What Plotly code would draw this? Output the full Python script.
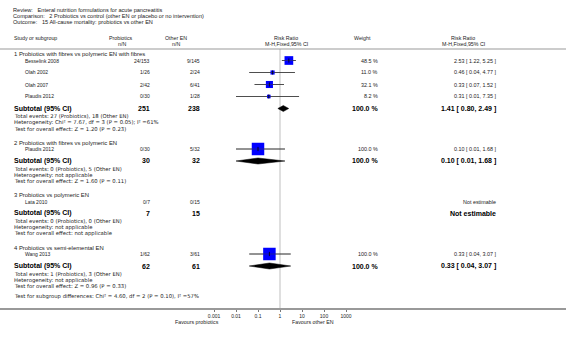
import math
import plotly.graph_objects as go

W, H = 566, 337

# ---------------- data ----------------
title_lines = [
    "Review:   Enteral nutrition formulations for acute pancreatitis",
    "Comparison:   2 Probiotics vs control (other EN or placebo or no intervention)",
    "Outcome:   15 All-cause mortality: probiotics vs other EN",
]
group_titles = [
    "1 Probiotics with fibres vs polymeric EN with fibres",
    "2 Probiotics with fibres vs polymeric EN",
    "3 Probiotics vs polymeric EN",
    "4 Probiotics vs semi-elemental EN",
]
study_names = ["Besselink 2008", "Olah 2002", "Olah 2007", "Plaudis 2012",
               "Plaudis 2012", "Lata 2010", "Wang 2013"]
study_group = [0, 0, 0, 0, 1, 2, 3]
prob_nN = ["24/153", "1/26", "2/42", "0/30", "0/30", "0/7", "1/62"]
other_nN = ["9/145", "2/24", "6/41", "1/28", "5/32", "0/15", "3/61"]
weights = [48.5, 11.0, 32.1, 8.2, 100.0, None, 100.0]
rr = [2.53, 0.46, 0.33, 0.31, 0.10, None, 0.33]
rr_lo = [1.22, 0.04, 0.07, 0.01, 0.01, None, 0.04]
rr_hi = [5.25, 4.77, 1.52, 7.35, 1.68, None, 3.07]

sub_prob_total = [251, 30, 7, 62]
sub_other_total = [238, 32, 15, 61]
sub_weight = [100.0, 100.0, None, 100.0]
sub_rr = [1.41, 0.10, None, 0.33]
sub_lo = [0.80, 0.01, None, 0.04]
sub_hi = [2.49, 1.68, None, 3.07]
sub_events = [
    "Total events: 27 (Probiotics), 18 (Other EN)",
    "Total events: 0 (Probiotics), 5 (Other EN)",
    "Total events: 0 (Probiotics), 0 (Other EN)",
    "Total events: 1 (Probiotics), 3 (Other EN)",
]
sub_het = [
    "Heterogeneity: Chi² = 7.67, df = 3 (P = 0.05); I² =61%",
    "Heterogeneity: not applicable",
    "Heterogeneity: not applicable",
    "Heterogeneity: not applicable",
]
sub_test = [
    "Test for overall effect: Z = 1.20 (P = 0.23)",
    "Test for overall effect: Z = 1.60 (P = 0.11)",
    "Test for overall effect: not applicable",
    "Test for overall effect: Z = 0.96 (P = 0.33)",
]
subgroup_diff = "Test for subgroup differences: Chi² = 4.60, df = 2 (P = 0.10), I² =57%"
tick_vals = [0.001, 0.01, 0.1, 1, 10, 100, 1000]
tick_text = ["0.001", "0.01", "0.1", "1", "10", "100", "1000"]
favours_left = "Favours probiotics"
favours_right = "Favours other EN"

# ---------------- layout helpers ----------------
FONT = "Liberation Sans, Arial, sans-serif"
FONT_WIDE = "DejaVu Sans, Verdana, sans-serif"
F_TITLE = 5.6
F_HEAD = 5.3
F_GROUP = 5.9
F_STUDY = 5.0
F_DETAIL = 5.3
F_RIGHT = 5.4
F_BOLD = 7.0
AXIS_Y = 308          # pixel row of the x axis
NULL_PX = 280         # pixel column of RR = 1
DEC_PX = 22           # pixels per decade
X0 = 12               # left text column
X_IND = 23            # indented study names
PROB_R = 152          # right edge of probiotics n/N
OTHER_R = 202         # right edge of other n/N
WEIGHT_R = 380
RR_R = 498

ann = []


def T(x, y, s, anchor="left", size=F_HEAD, bold=False, color="#222", family=FONT):
    if bold:
        s = "<b>" + s + "</b>"
    ann.append(dict(x=x / W, y=1 - y / H, xref="paper", yref="paper", text=s,
                    showarrow=False, xanchor=anchor, yanchor="middle",
                    font=dict(family=family, size=size, color=color)))


def fmt_ci(v, lo, hi):
    return f"{v:.2f} [ {lo:.2f}, {hi:.2f} ]"


# titles
for i, line in enumerate(title_lines):
    T(X0 - 1, 9.5 + 6.2 * i, line, size=F_TITLE)

# column headers
T(X0, 37.5, "Study or subgroup")
T(121, 37.5, "Probiotics", "center")
T(122, 43.8, "n/N", "center")
T(176, 37.5, "Other EN", "center")
T(176, 43.8, "n/N", "center")
T(286, 37.5, "Risk Ratio", "center")
T(286, 43.8, "M-H,Fixed,95% CI", "center")
T(362, 37.5, "Weight", "center")
T(463, 37.5, "Risk Ratio", "center")
T(463, 43.8, "M-H,Fixed,95% CI", "center")

# row positions
study_y = []
sub_y = []
y = 54
for g in range(len(group_titles)):
    T(X0, y, group_titles[g], size=F_GROUP)
    yy = y + 6.5
    for i, sg in enumerate(study_group):
        if sg == g:
            study_y.append(yy)
            yy += 12
    sub_y.append(yy)
    y = yy + 34
diff_y = sub_y[-1] + 30

# study rows text
for i, name in enumerate(study_names):
    yy = study_y[i]
    T(X_IND, yy, name, size=F_STUDY)
    T(PROB_R, yy, prob_nN[i], "right", F_STUDY)
    T(OTHER_R, yy, other_nN[i], "right", F_STUDY)
    if weights[i] is not None:
        T(WEIGHT_R, yy, f"{weights[i]:.1f} %", "right", F_RIGHT)
        T(RR_R, yy, fmt_ci(rr[i], rr_lo[i], rr_hi[i]), "right", F_RIGHT)
    else:
        T(RR_R, yy, "Not estimable", "right", F_RIGHT)

# subtotal rows text
for g in range(len(group_titles)):
    yy = sub_y[g]
    T(X0, yy, "Subtotal (95% CI)", bold=True, size=F_BOLD, color="#000")
    T(PROB_R, yy, str(sub_prob_total[g]), "right", F_BOLD, True, "#000")
    T(OTHER_R, yy, str(sub_other_total[g]), "right", F_BOLD, True, "#000")
    if sub_weight[g] is not None:
        T(WEIGHT_R, yy, f"{sub_weight[g]:.1f} %", "right", F_BOLD, True, "#000")
        T(RR_R, yy, fmt_ci(sub_rr[g], sub_lo[g], sub_hi[g]), "right", F_BOLD, True, "#000")
    else:
        T(RR_R, yy, "Not estimable", "right", F_BOLD, True, "#000")
    T(X0, yy + 7.6, sub_events[g], size=F_DETAIL, family=FONT_WIDE)
    T(X0, yy + 14.0, sub_het[g], size=F_DETAIL, family=FONT_WIDE)
    T(X0, yy + 20.4, sub_test[g], size=F_DETAIL, family=FONT_WIDE)

T(X0, diff_y, subgroup_diff, size=F_DETAIL, family=FONT_WIDE)
T(197, AXIS_Y + 14, favours_left, "center", F_HEAD)
T(313, AXIS_Y + 14, favours_right, "center", F_HEAD)

# ---------------- traces ----------------
fig = go.Figure()

# CI lines
for i in range(len(study_names)):
    if rr[i] is None:
        continue
    fig.add_trace(go.Scatter(x=[rr_lo[i], rr_hi[i]], y=[study_y[i], study_y[i]],
                             mode="lines", line=dict(color="#3a3a3a", width=0.8),
                             hoverinfo="skip", showlegend=False))

# weighted boxes
bx, by, bs = [], [], []
for i in range(len(study_names)):
    if rr[i] is None:
        continue
    bx.append(rr[i])
    by.append(study_y[i])
    bs.append(12.5 * math.sqrt(weights[i] / 100.0))
fig.add_trace(go.Scatter(x=bx, y=by, mode="markers", opacity=1,
                         marker=dict(symbol="square", size=bs, color="#0000ff",
                                     opacity=1, line=dict(width=0)),
                         hoverinfo="skip", showlegend=False))
# thin CI line and estimate tick over the box
for i in range(len(study_names)):
    if rr[i] is None:
        continue
    fig.add_trace(go.Scatter(x=[rr_lo[i], rr_hi[i]], y=[study_y[i], study_y[i]],
                             mode="lines", line=dict(color="#3a3a3a", width=0.5),
                             hoverinfo="skip", showlegend=False))
fig.add_trace(go.Scatter(x=bx, y=by, mode="markers",
                         marker=dict(symbol="line-ns", size=3,
                                     line=dict(width=0.8, color="#000")),
                         hoverinfo="skip", showlegend=False))

# diamonds
DH = 3.0
for g in range(len(group_titles)):
    if sub_rr[g] is None:
        continue
    yy = sub_y[g]
    fig.add_trace(go.Scatter(
        x=[sub_lo[g], sub_rr[g], sub_hi[g], sub_rr[g], sub_lo[g]],
        y=[yy, yy - DH, yy, yy + DH, yy],
        mode="lines", fill="toself", fillcolor="#000",
        line=dict(color="#000", width=0.5), hoverinfo="skip", showlegend=False))

# ---------------- axes ----------------
r0 = -NULL_PX / DEC_PX
r1 = r0 + W / DEC_PX

fig.update_layout(
    width=W, height=H,
    margin=dict(l=0, r=0, t=0, b=0),
    paper_bgcolor="white", plot_bgcolor="white",
    showlegend=False,
    annotations=ann,
    xaxis=dict(type="log", range=[r0, r1], domain=[0, 1],
               showgrid=False, zeroline=False,
               showline=True, linecolor="#999", linewidth=1.5,
               tickvals=tick_vals, ticktext=tick_text,
               ticks="outside", ticklen=2, tickcolor="#777", tickwidth=0.8,
               tickfont=dict(family=FONT, size=5, color="#222")),
    yaxis=dict(range=[AXIS_Y, 0], domain=[(H - AXIS_Y) / H, 1],
               visible=False, showgrid=False, zeroline=False),
    shapes=[
        dict(type="line", xref="paper", yref="y", x0=0, x1=1, y0=49, y1=49,
             line=dict(color="#999", width=1.2)),
        dict(type="line", xref="x", yref="y", x0=1, x1=1, y0=49, y1=AXIS_Y,
             line=dict(color="#d4d4d4", width=1.5), layer="below"),
    ],
)

fig.write_html("out.html")
